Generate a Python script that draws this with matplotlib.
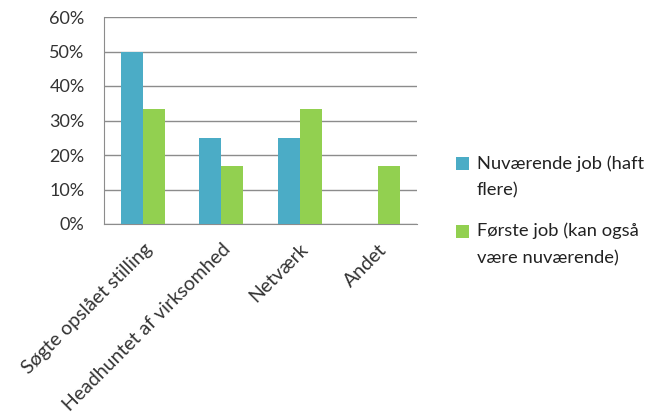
import matplotlib
matplotlib.use("Agg")
import matplotlib.pyplot as plt
import numpy as np
from matplotlib.ticker import PercentFormatter
from matplotlib.legend_handler import HandlerPatch
from matplotlib.patches import Rectangle

categories = ["Søgte opslået stilling", "Headhuntet af virksomhed", "Netværk", "Andet"]
series_names = ["Nuværende job (haft\nflere)", "Første job (kan også\nvære nuværende)"]
nuvaerende = [50.0, 25.0, 25.0, 0.0]
forste = [33.3, 16.7, 33.3, 16.7]
yticks = [0, 10, 20, 30, 40, 50, 60]

plt.rcParams['font.family'] = ['Lato', 'DejaVu Sans']


class TopSquare(HandlerPatch):
    def create_artists(self, legend, orig_handle, xdescent, ydescent,
                       width, height, fontsize, trans):
        shift = 0.72 * fontsize
        p = Rectangle((-xdescent, -ydescent + shift), width, height,
                      facecolor=orig_handle.get_facecolor(), edgecolor='none',
                      transform=trans)
        return [p]


fig = plt.figure(figsize=(6.68, 4.17), dpi=100)
ax = fig.add_axes([104/668, 1 - 224/417, (417-104)/668, (224-17)/417])

x = np.arange(len(categories))
w = 0.28
b1 = ax.bar(x - w/2, nuvaerende, w, color="#4BACC6", label=series_names[0], zorder=3)
b2 = ax.bar(x + w/2, forste, w, color="#92D050", label=series_names[1], zorder=3)

ax.set_xlim(-0.5, len(categories) - 0.5)
ax.set_ylim(0, 60)
ax.set_yticks(yticks)
ax.yaxis.set_major_formatter(PercentFormatter(decimals=0))
ax.grid(axis='y', color="#8C8C8C", linewidth=1, zorder=0)
for s in ['top', 'right']:
    ax.spines[s].set_visible(False)
for s in ['left', 'bottom']:
    ax.spines[s].set_color("#8C8C8C")
ax.tick_params(axis='both', length=0, colors="#333333")
ax.tick_params(axis='y', pad=14, labelsize=13)
ax.set_xticks(x)
ax.set_xticklabels(categories, rotation=45, ha='right', rotation_mode='anchor', fontsize=14)
ax.tick_params(axis='x', pad=12)

h1 = Rectangle((0, 0), 1, 1, facecolor="#4BACC6")
h2 = Rectangle((0, 0), 1, 1, facecolor="#92D050")
leg = fig.legend([h1, h2], series_names, loc='upper left',
                 bbox_to_anchor=(456/668, 1 - 155/417), frameon=False,
                 fontsize=13.2, handlelength=0.7, handleheight=0.7, handletextpad=0.45,
                 labelspacing=1.3, labelcolor="#222222", borderaxespad=0, borderpad=0,
                 handler_map={Rectangle: TopSquare()})
for t in leg.get_texts():
    t.set_linespacing(1.85)
fig.savefig("out.png", dpi=100)
